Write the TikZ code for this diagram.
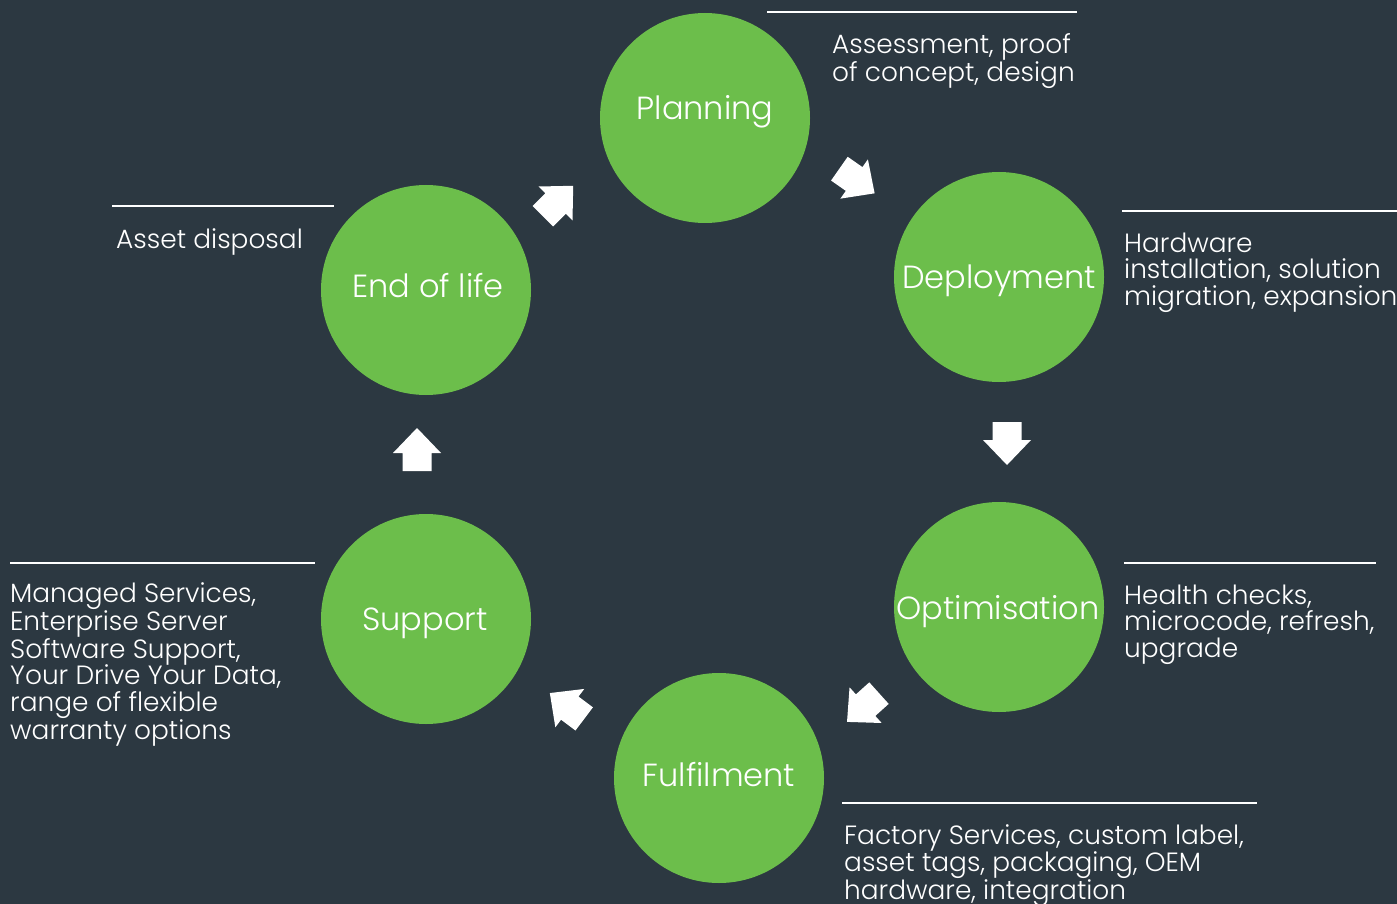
\documentclass[tikz,border=0pt]{standalone}
\usepackage{fontspec}
\setmainfont{Poppins Light}
\definecolor{bgc}{RGB}{44,56,65}
\definecolor{leaf}{RGB}{108,190,75}
\tikzset{
  stage/.style={circle, fill=leaf, minimum size=210pt, inner sep=0pt},
  stagelabel/.style={anchor=base, inner sep=0pt, text=white, font=\fontsize{32}{32}\selectfont},
  desc/.style={anchor=base west, align=left, inner sep=0pt, text=white, font=\fontsize{26.4}{26.7}\selectfont},
  rule/.style={draw=white, line width=2.6pt},
  blockarr/.pic={\fill[white] (-21.5,-14.5) -- (-3.5,-14.5) -- (-3.5,-24) -- (21.5,0) -- (-3.5,24) -- (-3.5,14.5) -- (-21.5,14.5) -- cycle;}
}
\begin{document}
\begin{tikzpicture}[x=1pt,y=-1pt]
\fill[bgc] (0,0) rectangle (1397,904);
\useasboundingbox (0,0) rectangle (1397,904);

\node[stage] (plan) at (705,118) {};
\node[stage] (dep) at (999,277) {};
\node[stage] (opt) at (999,607) {};
\node[stage] (ful) at (719,778) {};
\node[stage] (sup) at (426,619) {};
\node[stage] (eol) at (426,290) {};

\node[stagelabel] (planl) at (705,120) {Planning};
\node[stagelabel] (depl) at (999,288) {Deployment};
\node[stagelabel] (optl) at (998,619) {Optimisation};
\node[stagelabel] (full) at (719,786) {Fulfilment};
\node[stagelabel] (supl) at (425,630) {Support};
\node[stagelabel] (eoll) at (428,297) {End of life};

\pic[rotate=45] at (558,201) {blockarr};
\pic[rotate=-35] at (857,181) {blockarr};
\pic[rotate=-90] at (1007,443.5) {blockarr};
\pic[rotate=-138] at (863,707.5) {blockarr};
\pic[rotate=143] at (567,706) {blockarr};
\pic[rotate=90] at (417,449.5) {blockarr};

\coordinate (l1a) at (767,12); \coordinate (l1b) at (1077,12);
\draw[rule] (l1a) -- (l1b);
\node[desc] (t1) at (832,81.5) {Assessment, proof\\of concept, design};

\coordinate (l2a) at (1122,211); \coordinate (l2b) at (1397,211);
\draw[rule] (l2a) -- (l2b);
\node[desc] (t2) at (1124,305.5) {Hardware\\installation, solution\\migration, expansion};

\coordinate (l3a) at (1124,563); \coordinate (l3b) at (1376,563);
\draw[rule] (l3a) -- (l3b);
\node[desc] (t3) at (1124,657.5) {Health checks,\\microcode, refresh,\\upgrade};

\coordinate (l4a) at (842,803); \coordinate (l4b) at (1257,803);
\draw[rule] (l4a) -- (l4b);
\node[desc] (t4) at (844,899) {Factory Services, custom label,\\asset tags, packaging, OEM\\hardware, integration};

\coordinate (l5a) at (10,563); \coordinate (l5b) at (315,563);
\draw[rule] (l5a) -- (l5b);
\node[desc] (t5) at (10,739.5) {Managed Services,\\Enterprise Server\\Software Support,\\Your Drive Your Data,\\range of flexible\\warranty options};

\coordinate (l6a) at (112,206); \coordinate (l6b) at (334,206);
\draw[rule] (l6a) -- (l6b);
\node[desc] (t6) at (116,248) {Asset disposal};
\end{tikzpicture}
\end{document}
